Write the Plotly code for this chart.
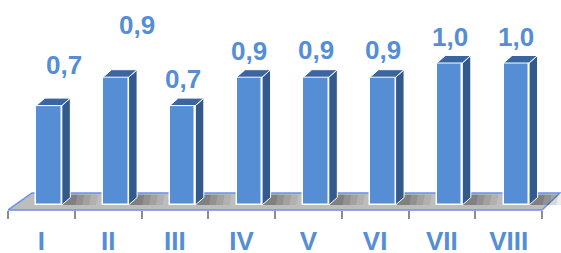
import numpy as np
import plotly.graph_objects as go

# ---- data ----
categories = ["I", "II", "III", "IV", "V", "VI", "VII", "VIII"]
values = [0.7, 0.9, 0.7, 0.9, 0.9, 0.9, 1.0, 1.0]
value_labels = ["0,7", "0,9", "0,7", "0,9", "0,9", "0,9", "1,0", "1,0"]

# ---- style / geometry constants ----
FRONT = "#558ED5"
SIDE = "#325A8C"
TOP = "#3A66A0"
FLOOR_LINE = "#6B8FEF"
W, H = 561, 253
L_M, R_M, T_M, B_M = 8, 0, 0, 40
PX_X = 66.75          # pixels per category
PX_Y = 142.0          # pixels per unit value
plot_w = W - L_M - R_M
plot_h = H - T_M - B_M
y_min = (205 - (H - B_M)) / PX_Y
y_max = 205 / PX_Y
x_min = -0.5
x_max = -0.5 + plot_w / PX_X

bar_shift = 7.7 / PX_X
bar_w = 25.5 / PX_X
dx = 8.5 / PX_X
dy = 7.5 / PX_Y

pos = np.arange(len(categories))
xc = pos + bar_shift
xl = xc - bar_w / 2
xr = xc + bar_w / 2

fig = go.Figure()

# side faces
sx, sy = [], []
for a, b_, v in zip(xl, xr, values):
    sx += [b_, b_ + dx, b_ + dx, b_, b_, None]
    sy += [0, dy, v + dy, v, 0, None]
fig.add_trace(go.Scatter(x=sx, y=sy, fill="toself", fillcolor=SIDE, mode="lines",
                         line=dict(color="white", width=1), hoverinfo="skip", showlegend=False))
# top faces
tx, ty = [], []
for a, b_, v in zip(xl, xr, values):
    tx += [a, b_, b_ + dx, a + dx, a, None]
    ty += [v, v, v + dy, v + dy, v, None]
fig.add_trace(go.Scatter(x=tx, y=ty, fill="toself", fillcolor=TOP, mode="lines",
                         line=dict(color="white", width=1), hoverinfo="skip", showlegend=False))

# front faces
fig.add_trace(go.Bar(x=xc, y=values, width=bar_w, marker=dict(color=FRONT, line=dict(color="white", width=1.5)),
                     showlegend=False, hoverinfo="skip"))

# floor
f_front = -5 / PX_Y
f_back = 12 / PX_Y
fl_x = [-0.5, 7.5, -0.5 + (560 - 8) / PX_X, -0.5 + 24 / PX_X]
fl_y = [f_front, f_front, f_back, f_back]
path = "M {} {} L {} {} L {} {} L {} {} Z".format(fl_x[0], fl_y[0], fl_x[1], fl_y[1], fl_x[2], fl_y[2], fl_x[3], fl_y[3])
shapes = [dict(type="path", path=path, xref="x", yref="y", layer="below",
               fillcolor="#BDBDBD", line=dict(color=FLOOR_LINE, width=1.5))]
# soft shadows behind bars (layered for a blurred look)
for b_ in xr:
    for k, op in [(4.0, 0.08), (3.2, 0.10), (2.4, 0.12), (1.6, 0.14)]:
        sp = "M {} {} L {} {} L {} {} L {} {} Z".format(
            b_ - 0.04, 0.0, b_ + dx * k, 0.0, b_ + dx * k + 0.03, f_back - 0.012, b_ - 0.01, f_back - 0.012)
        shapes.append(dict(type="path", path=sp, xref="x", yref="y", layer="below",
                           fillcolor="rgba(30,30,30,{})".format(op), line=dict(width=0)))

# value labels
nudges = [(15, 41), (21, 52), (0, 27), (0, 26), (0, 27), (0, 27), (0, 26), (0, 26)]
annotations = []
for x_, v, t, (nx, ny) in zip(xc, values, value_labels, nudges):
    annotations.append(dict(x=x_, y=v, text=t, showarrow=False, xanchor="center", yanchor="middle",
                            xshift=nx, yshift=ny,
                            font=dict(family="Liberation Sans", size=26, color=FRONT, weight="bold")))

fig.update_layout(
    width=W, height=H, margin=dict(l=L_M, r=R_M, t=T_M, b=B_M, autoexpand=False),
    paper_bgcolor="white", plot_bgcolor="white",
    shapes=shapes, annotations=annotations, bargap=0,
    xaxis=dict(range=[x_min, x_max], tickmode="array", tickvals=pos, ticktext=categories,
               ticks="", showgrid=False, zeroline=False, showline=False, automargin=False,
               anchor="free", position=3 / plot_h,
               tickfont=dict(family="Liberation Sans", size=26, color=FRONT, weight="bold"),
               ticklabelstandoff=13,
               minor=dict(tickmode="array", tickvals=np.arange(-0.5, 8, 1.0), ticks="outside",
                          ticklen=8, tickwidth=1.5, tickcolor="#8C8C8C", showgrid=False)),
    yaxis=dict(range=[y_min, y_max], visible=False, automargin=False),
)

fig.write_html("out.html", config={"displayModeBar": False},
               post_script="document.body.style.margin='0';document.body.style.overflow='hidden';")
